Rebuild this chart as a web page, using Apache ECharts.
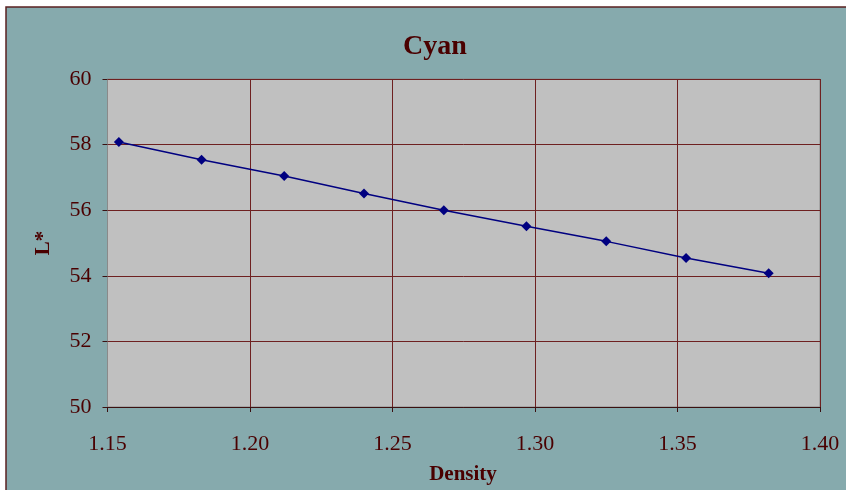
<!DOCTYPE html>
<html>
<head>
<meta charset="utf-8">
<script src="https://cdn.jsdelivr.net/npm/echarts@6/dist/echarts.min.js"></script>
<style>
  html, body { margin: 0; padding: 0; background: #ffffff; }
  #chart { width: 846px; height: 490px; }
</style>
</head>
<body>
<div id="chart"></div>
<script>
// Cyan patch: lightness L* against measured density
const density = [1.154, 1.183, 1.212, 1.240, 1.268, 1.297, 1.325, 1.353, 1.382];
const lightness = [58.08, 57.54, 57.04, 56.51, 56.00, 55.51, 55.05, 54.54, 54.08];
const titleText = 'Cyan';
const xName = 'Density';
const yName = 'L*';

const textColor = '#4a0000';
const gridColor = '#6e2020';
const serif = '"Liberation Serif", "Times New Roman", serif';

const chart = echarts.init(document.getElementById('chart'), null, { renderer: 'canvas' });

chart.setOption({
  backgroundColor: '#ffffff',
  animation: false,
  graphic: [
    {
      type: 'rect',
      z: -10,
      shape: { x: 6, y: 7, width: 860, height: 500 },
      style: { fill: '#86aaad', stroke: '#5a2020', lineWidth: 1.5 }
    },
    {
      type: 'text',
      x: 435,
      y: 47,
      style: { text: titleText, font: 'bold 28px ' + serif, fill: textColor, align: 'center', verticalAlign: 'middle' }
    },
    {
      type: 'text',
      x: 44,
      y: 243,
      rotation: Math.PI / 2,
      style: { text: yName, font: 'bold 21px ' + serif, fill: textColor, align: 'center', verticalAlign: 'middle' }
    },
    {
      type: 'text',
      x: 463,
      y: 475,
      style: { text: xName, font: 'bold 21px ' + serif, fill: textColor, align: 'center', verticalAlign: 'middle' }
    }
  ],
  grid: {
    left: 107.5,
    right: 26,
    top: 79,
    bottom: 83,
    show: true,
    backgroundColor: '#c0c0c0',
    borderColor: '#8a8a8a',
    borderWidth: 1
  },
  xAxis: {
    type: 'value',
    min: 1.15,
    max: 1.40,
    interval: 0.05,
    axisLine: { show: true, onZero: false, lineStyle: { color: '#3a1010', width: 1 } },
    axisTick: { show: true, length: 5, inside: false, lineStyle: { color: '#3a1010' } },
    axisLabel: {
      margin: 26,
      color: textColor,
      fontFamily: serif,
      fontSize: 22,
      formatter: v => v.toFixed(2)
    },
    splitLine: { show: true, lineStyle: { color: gridColor, width: 1 } }
  },
  yAxis: {
    type: 'value',
    min: 50,
    max: 60,
    interval: 2,
    axisLine: { show: true, onZero: false, lineStyle: { color: '#8a8a8a', width: 1 } },
    axisTick: { show: true, length: 5, inside: false, lineStyle: { color: '#3a1010' } },
    axisLabel: {
      margin: 16,
      color: textColor,
      fontFamily: serif,
      fontSize: 22
    },
    splitLine: { show: true, lineStyle: { color: gridColor, width: 1 } }
  },
  series: [
    {
      type: 'line',
      data: density.map((d, i) => [d, lightness[i]]),
      symbol: 'diamond',
      symbolSize: 10,
      showAllSymbol: true,
      lineStyle: { color: '#000080', width: 1.5 },
      itemStyle: { color: '#000080' }
    }
  ]
});
</script>
</body>
</html>
